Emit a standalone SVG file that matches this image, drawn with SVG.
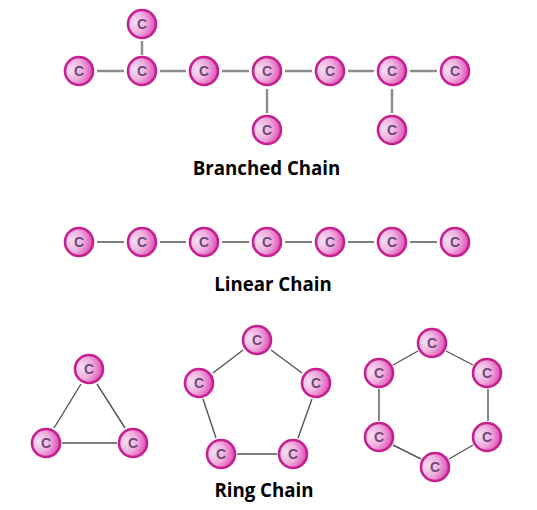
<svg xmlns="http://www.w3.org/2000/svg" width="537" height="510" viewBox="0 0 537 510">
<style>
.n{fill:url(#g);stroke:#c4208f;stroke-width:2.6}
.c{font:bold 14px "Liberation Sans",Arial,sans-serif;fill:#6b4a78;text-anchor:middle}
.t{font:bold 18.7px "Open Sans","Liberation Sans",sans-serif;fill:#000;text-anchor:middle}
.b{stroke:#8b8b90;stroke-width:2.4;fill:none}
.d{stroke:#555;stroke-width:1.4;fill:none}
</style>
<defs>
<radialGradient id="g" cx="0.25" cy="0.45" r="0.85">
<stop offset="0" stop-color="#f3def2"/><stop offset="0.45" stop-color="#f0b0e0"/><stop offset="1" stop-color="#d92fa8"/>
</radialGradient>
</defs>
<rect width="537" height="510" fill="#fff"/>
<g id="connectors">
<path class="b" d="M97 71H124M160 71H186M222 71H249M285 71H312M348 71H374M410 71H437"/>
<path class="b" d="M142 41V55M267 89V113M392 89V113"/>
<path class="d" d="M97 242H124M160 242H186M222 242H249M285 242H312M348 242H374M410 242H437"/>
<path class="d" d="M81 384L54 428M97 384L125 428M62 443H117"/>
<path class="d" d="M243 350L213 373M271 350L302 373M203 399L216 438M312 399L298 438M237 454H277"/>
<path class="d" d="M446 351L473 365M418 351L393 365M379 389V421M488 389V421M393 445L421 459M473 445L449 459"/>
</g>
<g id="n1"><circle class="n" cx="142" cy="24" r="14"/><text class="c" x="142" y="29">C</text></g>
<g id="n2"><circle class="n" cx="79" cy="71" r="14"/><text class="c" x="79" y="76">C</text></g>
<g id="n3"><circle class="n" cx="142" cy="71" r="14"/><text class="c" x="142" y="76">C</text></g>
<g id="n4"><circle class="n" cx="204" cy="71" r="14"/><text class="c" x="204" y="76">C</text></g>
<g id="n5"><circle class="n" cx="267" cy="71" r="14"/><text class="c" x="267" y="76">C</text></g>
<g id="n6"><circle class="n" cx="330" cy="71" r="14"/><text class="c" x="330" y="76">C</text></g>
<g id="n7"><circle class="n" cx="392" cy="71" r="14"/><text class="c" x="392" y="76">C</text></g>
<g id="n8"><circle class="n" cx="455" cy="71" r="14"/><text class="c" x="455" y="76">C</text></g>
<g id="n9"><circle class="n" cx="267" cy="130" r="14"/><text class="c" x="267" y="135">C</text></g>
<g id="n10"><circle class="n" cx="392" cy="130" r="14"/><text class="c" x="392" y="135">C</text></g>
<g id="n11"><circle class="n" cx="79" cy="242" r="14"/><text class="c" x="79" y="247">C</text></g>
<g id="n12"><circle class="n" cx="142" cy="242" r="14"/><text class="c" x="142" y="247">C</text></g>
<g id="n13"><circle class="n" cx="204" cy="242" r="14"/><text class="c" x="204" y="247">C</text></g>
<g id="n14"><circle class="n" cx="267" cy="242" r="14"/><text class="c" x="267" y="247">C</text></g>
<g id="n15"><circle class="n" cx="330" cy="242" r="14"/><text class="c" x="330" y="247">C</text></g>
<g id="n16"><circle class="n" cx="392" cy="242" r="14"/><text class="c" x="392" y="247">C</text></g>
<g id="n17"><circle class="n" cx="455" cy="242" r="14"/><text class="c" x="455" y="247">C</text></g>
<g id="n18"><circle class="n" cx="89" cy="369" r="14"/><text class="c" x="89" y="374">C</text></g>
<g id="n19"><circle class="n" cx="46" cy="443" r="14"/><text class="c" x="46" y="448">C</text></g>
<g id="n20"><circle class="n" cx="133" cy="443" r="14"/><text class="c" x="133" y="448">C</text></g>
<g id="n21"><circle class="n" cx="257" cy="340" r="14"/><text class="c" x="257" y="345">C</text></g>
<g id="n22"><circle class="n" cx="199" cy="383" r="14"/><text class="c" x="199" y="388">C</text></g>
<g id="n23"><circle class="n" cx="316" cy="383" r="14"/><text class="c" x="316" y="388">C</text></g>
<g id="n24"><circle class="n" cx="221" cy="454" r="14"/><text class="c" x="221" y="459">C</text></g>
<g id="n25"><circle class="n" cx="293" cy="454" r="14"/><text class="c" x="293" y="459">C</text></g>
<g id="n26"><circle class="n" cx="432" cy="343" r="14"/><text class="c" x="432" y="348">C</text></g>
<g id="n27"><circle class="n" cx="379" cy="373" r="14"/><text class="c" x="379" y="378">C</text></g>
<g id="n28"><circle class="n" cx="487" cy="373" r="14"/><text class="c" x="487" y="378">C</text></g>
<g id="n29"><circle class="n" cx="379" cy="437" r="14"/><text class="c" x="379" y="442">C</text></g>
<g id="n30"><circle class="n" cx="487" cy="437" r="14"/><text class="c" x="487" y="442">C</text></g>
<g id="n31"><circle class="n" cx="435" cy="467" r="14"/><text class="c" x="435" y="472">C</text></g>
<text class="t" x="266.500" y="175">Branched Chain</text>
<text class="t" x="273" y="291">Linear Chain</text>
<text class="t" x="264" y="497">Ring Chain</text>
</svg>
